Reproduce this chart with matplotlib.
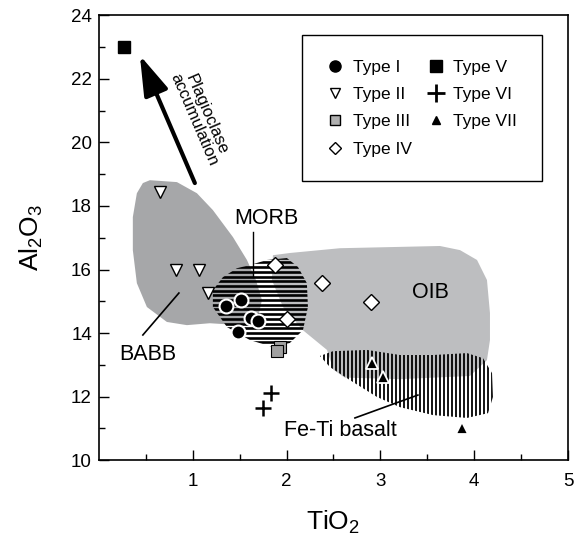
import matplotlib
matplotlib.use('Agg')
import matplotlib.pyplot as plt
import numpy as np
from matplotlib.lines import Line2D
from matplotlib.patches import Polygon

plt.rcParams['font.family'] = ['Liberation Sans', 'DejaVu Sans']
plt.rcParams['mathtext.default'] = 'regular'

# sample points (TiO2, Al2O3)
type1_x = [1.35, 1.52, 1.62, 1.70, 1.48]
type1_y = [14.85, 15.04, 14.47, 14.38, 14.03]
type2_x = [0.65, 0.82, 1.07, 1.16]
type2_y = [18.43, 16.0, 16.0, 15.26]
type3_x = [1.93, 1.90]
type3_y = [13.56, 13.43]
type4_x = [1.88, 2.38, 2.01, 2.90]
type4_y = [16.14, 15.57, 14.44, 14.97]
type5_x = [0.27]
type5_y = [23.0]
type6_x = [1.83, 1.75]
type6_y = [12.11, 11.64]
type7_x = [2.91, 3.03, 3.87]
type7_y = [13.06, 12.62, 11.0]

# field outlines
babb_x = [0.469, 0.544, 0.832, 1.045, 1.215, 1.429, 1.578, 1.674, 1.738, 1.695,
          1.503, 1.183, 0.938, 0.725, 0.512, 0.405, 0.362, 0.362, 0.405]
babb_y = [18.72, 18.81, 18.75, 18.40, 17.87, 17.02, 16.30, 15.67, 15.04, 14.47,
          14.25, 14.31, 14.25, 14.35, 14.82, 15.57, 16.61, 17.65, 18.40]
oib_x = [1.855, 2.036, 2.569, 3.635, 3.849, 4.030, 4.136, 4.168, 4.168, 4.136,
         3.955, 3.209, 2.620, 2.500, 2.431, 2.175, 1.962, 1.844]
oib_y = [16.45, 16.52, 16.67, 16.74, 16.61, 16.30, 15.67, 14.63, 13.78, 13.15,
         12.65, 12.55, 12.60, 12.85, 13.47, 14.09, 14.82, 15.67]
morb_x = [1.610, 1.791, 2.004, 2.122, 2.217, 2.228, 2.175, 2.036, 1.855, 1.610,
          1.365, 1.215, 1.215, 1.322, 1.471]
morb_y = [16.14, 16.30, 16.36, 16.08, 15.57, 14.82, 14.09, 13.69, 13.56, 13.78,
          14.19, 14.82, 15.35, 15.76, 16.04]
feti_x = [2.356, 2.495, 2.857, 3.209, 3.561, 3.923, 4.094, 4.190, 4.200, 4.147,
          3.923, 3.561, 3.209, 2.964, 2.676, 2.463]
feti_y = [13.28, 13.43, 13.47, 13.31, 13.31, 13.37, 13.21, 12.74, 11.99, 11.48,
          11.33, 11.42, 11.67, 11.99, 12.52, 12.93]

fig = plt.figure(figsize=(5.85, 5.44), dpi=100)
ax = fig.add_axes([0.169, 0.154, 0.802, 0.818])
ax.set_xlim(0, 5)
ax.set_ylim(10, 24)

ax.add_patch(Polygon(np.column_stack([babb_x, babb_y]), closed=True,
                     facecolor='#a6a7a9', edgecolor='none', zorder=1))
ax.add_patch(Polygon(np.column_stack([oib_x, oib_y]), closed=True,
                     facecolor='#bdbec0', edgecolor='none', zorder=1))

# MORB: horizontal line hatch
morb = Polygon(np.column_stack([morb_x, morb_y]), closed=True,
               facecolor='none', edgecolor='none')
ax.add_patch(morb)
hy = np.arange(min(morb_y), max(morb_y) + 0.15, 0.148)
hl = ax.hlines(hy, min(morb_x) - 0.1, max(morb_x) + 0.1, colors='k',
               linewidth=1.9, zorder=2)
hl.set_clip_path(morb)

# Fe-Ti basalt: vertical line hatch
feti = Polygon(np.column_stack([feti_x, feti_y]), closed=True,
               facecolor='none', edgecolor='none')
ax.add_patch(feti)
vx = np.arange(min(feti_x), max(feti_x) + 0.05, 0.0426)
vl = ax.vlines(vx, min(feti_y) - 0.2, max(feti_y) + 0.2, colors='k',
               linewidth=1.3, zorder=2)
vl.set_clip_path(feti)

# markers
ax.plot(type1_x, type1_y, 'o', ms=10, mfc='k', mec='white', mew=1.5, zorder=5)
ax.plot(type2_x, type2_y, 'v', ms=9, mfc='white', mec='k', mew=1.0, zorder=5)
ax.plot(type3_x, type3_y, 's', ms=8, mfc='#a0a0a0', mec='k', mew=0.8, zorder=5)
ax.plot(type4_x, type4_y, 'D', ms=8, mfc='white', mec='k', mew=1.0, zorder=5)
ax.plot(type5_x, type5_y, 's', ms=8, mfc='k', mec='k', zorder=5)
ax.plot(type6_x, type6_y, '+', ms=12, mec='k', mew=1.8, zorder=5)
ax.plot(type7_x, type7_y, '^', ms=8, mfc='k', mec='white', mew=1.3, zorder=5)

# labels for fields
ax.text(1.79, 17.62, 'MORB', fontsize=15.5, ha='center', va='center')
ax.plot([1.642, 1.642], [17.18, 15.76], color='k', lw=1.0, zorder=3)
ax.text(0.52, 13.34, 'BABB', fontsize=15.5, ha='center', va='center')
ax.plot([0.469, 0.853], [13.94, 15.26], color='k', lw=1.2, zorder=3)
ax.text(3.53, 15.29, 'OIB', fontsize=15.5, ha='center', va='center')
ax.text(2.57, 10.95, 'Fe-Ti basalt', fontsize=15.5, ha='center', va='center')
ax.plot([2.729, 3.40], [11.33, 12.05], color='k', lw=1.2, zorder=3)

ax.annotate('', xy=(0.437, 22.74), xytext=(1.023, 18.72),
            arrowprops=dict(arrowstyle='-|>,head_length=0.7,head_width=0.22',
                            mutation_scale=35, lw=3, color='k',
                            shrinkA=0, shrinkB=0), zorder=4)
ax.text(1.08, 20.80, 'Plagioclase\naccumulation', fontsize=12, rotation=-66.7,
        ha='center', va='center', rotation_mode='anchor', linespacing=0.9)

handles = [
    Line2D([], [], ls='none', marker='o', ms=8, mfc='k', mec='k', label='Type I'),
    Line2D([], [], ls='none', marker='v', ms=7, mfc='white', mec='k', label='Type II'),
    Line2D([], [], ls='none', marker='s', ms=7, mfc='#b0b0b0', mec='k', label='Type III'),
    Line2D([], [], ls='none', marker='D', ms=6, mfc='white', mec='k', label='Type IV'),
    Line2D([], [], ls='none', marker='s', ms=8, mfc='k', mec='k', label='Type V'),
    Line2D([], [], ls='none', marker='+', ms=13, mec='k', mew=2, label='Type VI'),
    Line2D([], [], ls='none', marker='^', ms=6, mfc='k', mec='k', label='Type VII'),
]
leg = ax.legend(handles=handles, ncol=2, loc='upper left',
                bbox_to_anchor=(0.434, 0.955), fontsize=12.5, frameon=True,
                fancybox=False, framealpha=1, edgecolor='k', borderpad=1.4,
                labelspacing=0.7, handlelength=1.0, handletextpad=0.5,
                columnspacing=0.9, borderaxespad=0)
leg.get_frame().set_linewidth(1.0)

ax.set_xticks([1, 2, 3, 4, 5])
ax.set_xticks(np.arange(0.5, 5, 1.0), minor=True)
ax.set_yticks(np.arange(10, 25, 2))
ax.set_yticks(np.arange(11, 24, 2), minor=True)
ax.tick_params(which='both', direction='in', top=False, right=False,
               labelsize=13.5, width=1.0)
ax.tick_params(which='major', length=7)
ax.tick_params(which='minor', length=4)
ax.tick_params(axis='x', pad=9)
ax.tick_params(axis='y', pad=5)
for s in ax.spines.values():
    s.set_linewidth(1.2)

ax.set_xlabel('TiO$_2$', fontsize=19, labelpad=14)
ax.set_ylabel('Al$_2$O$_3$', fontsize=19, labelpad=19)

fig.savefig('out.png', dpi=100)
